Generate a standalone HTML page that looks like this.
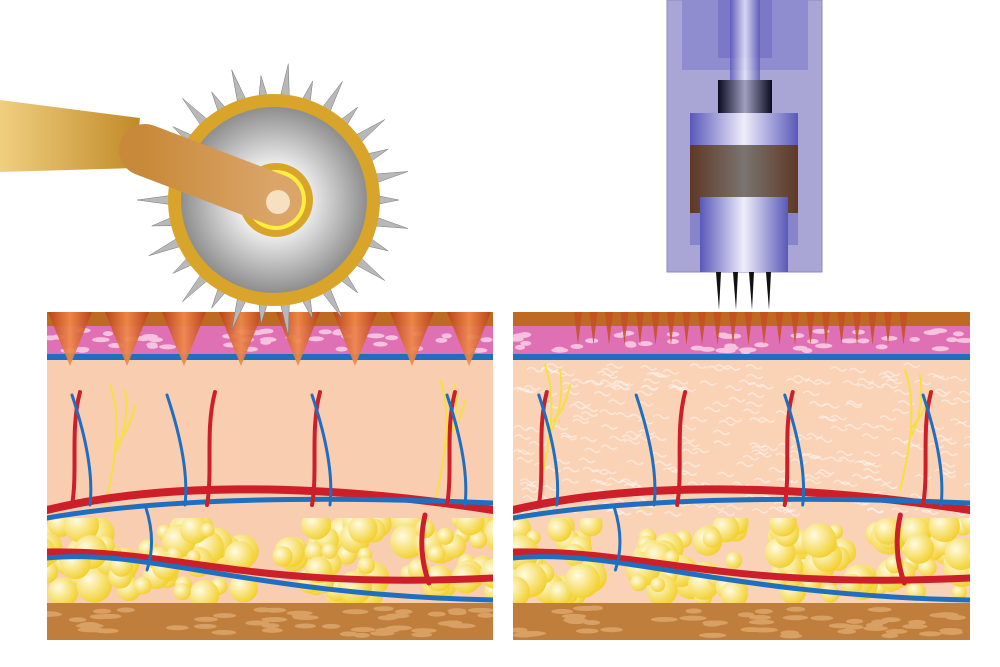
<!DOCTYPE html>
<html><head><meta charset="utf-8"><style>html,body{margin:0;padding:0;background:#fff;width:1000px;height:667px;overflow:hidden}</style></head>
<body>
<svg id="s" width="1000" height="667" viewBox="0 0 1000 667" xmlns="http://www.w3.org/2000/svg">
<defs>
<linearGradient id="gold" x1="0" y1="0" x2="1" y2="0"><stop offset="0" stop-color="#f0cf80"/><stop offset="1" stop-color="#c18a28"/></linearGradient>
<linearGradient id="tan" x1="0" y1="0" x2="1" y2="0"><stop offset="0" stop-color="#c88a3a"/><stop offset="1" stop-color="#dba56a"/></linearGradient>
<radialGradient id="disk" cx="0.5" cy="0.5" r="0.5"><stop offset="0.3" stop-color="#fafafa"/><stop offset="1" stop-color="#8e8e8e"/></radialGradient>
<radialGradient id="fat" cx="0.35" cy="0.35" r="0.7"><stop offset="0" stop-color="#fffbe0"/><stop offset="1" stop-color="#f2cf2a"/></radialGradient>
<linearGradient id="cone" x1="0" y1="0" x2="1" y2="0"><stop offset="0" stop-color="#b8401a"/><stop offset="0.5" stop-color="#f08a4a"/><stop offset="1" stop-color="#b8401a"/></linearGradient>
<linearGradient id="pen" x1="0" y1="0" x2="1" y2="0"><stop offset="0" stop-color="#5a58b8"/><stop offset="0.5" stop-color="#eeeefa"/><stop offset="1" stop-color="#5a58b8"/></linearGradient>
<linearGradient id="brn" x1="0" y1="0" x2="1" y2="0"><stop offset="0" stop-color="#5e3826"/><stop offset="0.5" stop-color="#7a7470"/><stop offset="1" stop-color="#5e3826"/></linearGradient>
<linearGradient id="blk" x1="0" y1="0" x2="1" y2="0"><stop offset="0" stop-color="#0a0a20"/><stop offset="0.5" stop-color="#a0a0c0"/><stop offset="1" stop-color="#0a0a20"/></linearGradient>
</defs>
<g id="panels"></g>
<g id="spikes"></g>
<polygon points="0,100 140,118 135,168 0,172" fill="url(#gold)"/>
<circle cx="274" cy="200" r="106" fill="#d8a52a"/>
<circle cx="274" cy="200" r="93" fill="url(#disk)"/>
<circle cx="276" cy="200" r="37" fill="#d8a52a"/>
<circle cx="276" cy="200" r="30" fill="#ffee40"/>
<line x1="145" y1="150" x2="276" y2="200" stroke="url(#tan)" stroke-width="52" stroke-linecap="round"/>
<circle cx="278" cy="202" r="12" fill="#f6e0c0"/>
<rect x="667" y="0" width="155" height="272" fill="#a9a6d6" stroke="#8c88c4"/>
<rect x="682" y="0" width="126" height="70" fill="#8f8cd0"/>
<rect x="718" y="0" width="54" height="58" fill="#7b78c8"/>
<rect x="730" y="0" width="30" height="80" fill="url(#pen)" opacity="0.8"/>
<rect x="718" y="80" width="54" height="33" fill="url(#blk)"/>
<rect x="690" y="113" width="108" height="32" fill="url(#pen)"/>
<rect x="690" y="145" width="108" height="68" fill="url(#brn)"/>
<rect x="690" y="213" width="108" height="32" fill="#8884cc"/>
<rect x="700" y="197" width="88" height="75" fill="url(#pen)"/>
<g fill="#111"><polygon points="716,272 721,272 719,310"/><polygon points="733,272 738,272 736,310"/><polygon points="749,272 754,272 752,310"/><polygon points="766,272 771,272 769,310"/></g>
</svg>
<script>
var NS="http://www.w3.org/2000/svg",P=document.getElementById("panels"),S=document.getElementById("spikes");
function el(t,a,p){var e=document.createElementNS(NS,t);for(var k in a)e.setAttribute(k,a[k]);(p||P).appendChild(e);return e;}
var seed=7;function r(){seed=(seed*9301+49297)%233280;return seed/233280;}
function panel(x,w,left){
 var g=el("g",{});
 el("clipPath",{id:"c"+x},g);el("rect",{x:x,y:312,width:w,height:328},document.getElementById("c"+x));
 el("clipPath",{id:"f"+x},g);el("rect",{x:x,y:518,width:w,height:86},document.getElementById("f"+x));
 var c=el("g",{"clip-path":"url(#c"+x+")"},g);
 el("rect",{x:x,y:312,width:w,height:328,fill:left?"#f9cdb0":"#fad2b6"},c);
 el("rect",{x:x,y:312,width:w,height:14,fill:"#bf6a22"},c);
 el("rect",{x:x,y:326,width:w,height:30,fill:"#e070b4"},c);
 for(var i=0;i<w/10;i++)el("ellipse",{cx:x+r()*w,cy:330+r()*22,rx:5+r()*4,ry:2.5,fill:"#f6c2e0"},c);
 el("rect",{x:x,y:354,width:w,height:6,fill:"#1f6ec0"},c);
 if(!left)for(var i=0;i<300;i++)el("path",{d:"M"+(x+r()*w)+","+(365+r()*150)+" q4,-4 8,0 t8,0",stroke:"#fff",fill:"none","stroke-width":1.5,opacity:0.45},c);
 var fg=el("g",{"clip-path":"url(#f"+x+")"},c);
 var cl=left?[[80,560],[195,560],[335,560],[460,555]]:[[550,560],[690,560],[830,560],[940,555]];
 cl.forEach(function(p){for(var i=0;i<34;i++){var rr=7+r()*11;el("circle",{cx:p[0]+(r()-0.5)*105,cy:p[1]+(r()-0.5)*75,r:rr,fill:"url(#fat)"},fg);}});
 el("rect",{x:x,y:603,width:w,height:37,fill:"#c07e3c"},c);
 for(var i=0;i<w/9;i++)el("ellipse",{cx:x+r()*w,cy:608+r()*28,rx:8+r()*6,ry:2.5,fill:"#d9a064"},c);
 function v(d,col,sw){el("path",{d:d,stroke:col,fill:"none","stroke-width":sw,"stroke-linecap":"round"},c);}
 var s=w/446;
 function X(a){return x+(a-47)*s;}
 var ny=left?[[110,385],[440,380]]:[[545,365],[905,370]];
 ny.forEach(function(n){v("M"+n[0]+","+n[1]+" q15,40 -5,120 M"+(n[0]+15)+","+(n[1]+5)+" q5,30 -8,60 M"+(n[0]+25)+","+(n[1]+20)+" q-5,25 -20,40","#f5e040",2);});
 v("M"+x+",510 C"+X(150)+",485 "+X(300)+",480 "+(x+w)+",510","#cc1f2a",8);
 v("M"+x+",518 C"+X(150)+",500 "+X(300)+",495 "+(x+w)+",503","#1f6ec0",5);
 v("M"+x+",552 C"+X(180)+",550 "+X(250)+",590 "+(x+w)+",578","#cc1f2a",7);
 v("M"+x+",558 C"+X(150)+",548 "+X(250)+",595 "+(x+w)+",600","#1f6ec0",5);
 var L=[80,175,215,320,455];
 L.forEach(function(a,i){var xx=X(a);
  if(i!=1)v("M"+(xx-8)+",505 C"+(xx-2)+",470 "+(xx-10)+",430 "+xx+",392","#cc1f2a",4);
  if(i!=2)v("M"+(xx+10)+",505 C"+(xx+14)+",470 "+(xx+2)+",425 "+(xx-8)+",395","#1f6ec0",3);
 });
 v("M"+X(425)+",515 q-8,35 4,68","#cc1f2a",5);
 v("M"+X(145)+",505 q12,35 2,65","#1f6ec0",3);
 if(left){for(var i=0;i<8;i++){var cx=70+i*57;el("polygon",{points:(cx-22)+",312 "+(cx+22)+",312 "+cx+",366",fill:"url(#cone)",opacity:0.9},g);}}
 else{for(var cx=578;cx<=912;cx+=15.5)el("polygon",{points:(cx-4)+",312 "+(cx+4)+",312 "+cx+",345",fill:"#c3501e",opacity:0.85},g);}
}
panel(47,446,true);panel(513,457,false);
for(var i=0;i<30;i++){var a=i/30*Math.PI*2,ca=Math.cos(a),sa=Math.sin(a),l=125+(i%2)*12;
 var p=[[274+ca*100-sa*5,200+sa*100+ca*5],[274+ca*100+sa*5,200+sa*100-ca*5],[274+ca*l,200+sa*l]];
 el("polygon",{points:p.map(function(q){return q.join(",")}).join(" "),fill:"#b8b8b8",stroke:"#777","stroke-width":0.5},S);}
</script>
</body></html>
